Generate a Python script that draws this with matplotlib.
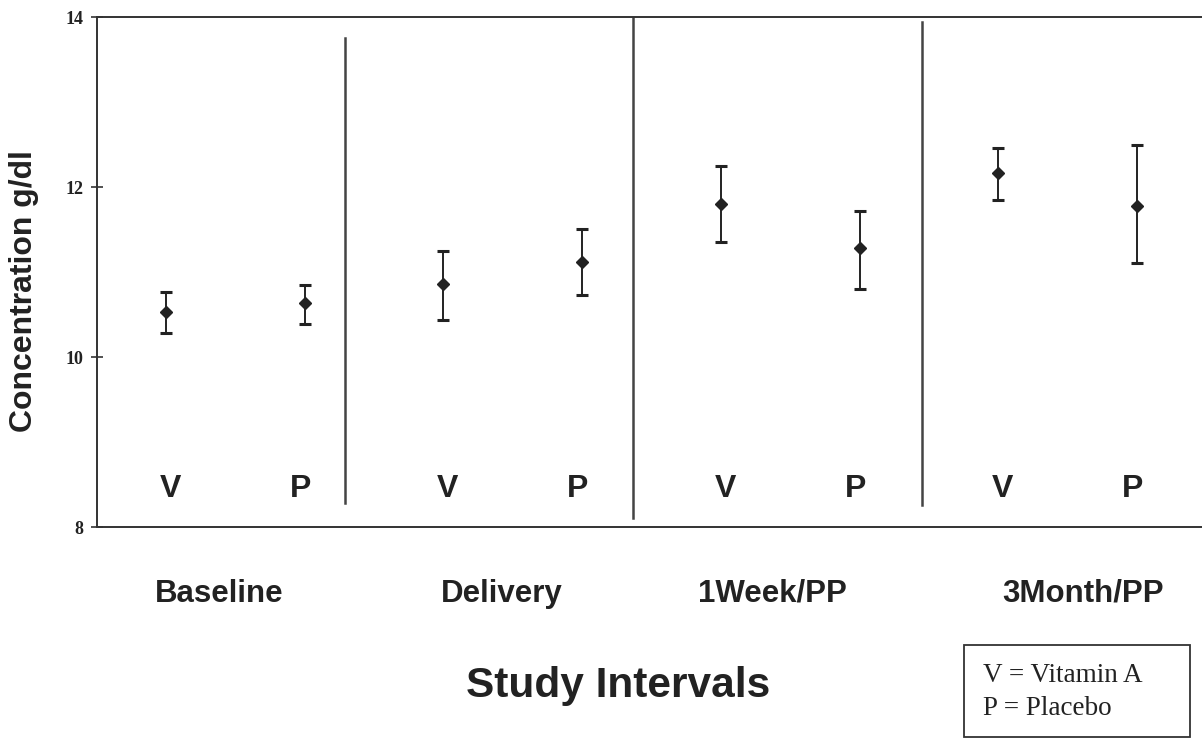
import matplotlib
matplotlib.use("Agg")
import matplotlib.pyplot as plt
from matplotlib.patches import Rectangle
import numpy as np

# study intervals and the two arms
intervals = ["Baseline", "Delivery", "1Week/PP", "3Month/PP"]
arms = ["V", "P"]

# vitamin A arm: mean with lower / upper error limits (g/dl)
vit_mean = [10.53, 10.86, 11.80, 12.17]
vit_low = [10.28, 10.44, 11.36, 11.85]
vit_high = [10.76, 11.25, 12.25, 12.46]

# placebo arm
plc_mean = [10.64, 11.12, 11.28, 11.78]
plc_low = [10.39, 10.73, 10.80, 11.11]
plc_high = [10.85, 11.51, 11.72, 12.49]

y_ticks = [8, 10, 12, 14]

ink = "#222222"
sans = "Liberation Sans"
serif = "Liberation Serif"

fig = plt.figure(figsize=(12.02, 7.40), dpi=100)
ax = fig.add_axes([0.0807, 0.2878, 0.9193, 0.689])

# V and P alternate along x, one pair per interval
x_vit = np.arange(len(intervals)) * 2 + 1
x_plc = x_vit + 1

def draw_arm(xs, mean, low, high):
    mean = np.array(mean)
    yerr = [mean - np.array(low), np.array(high) - mean]
    ax.errorbar(xs, mean, yerr=yerr, fmt="D", color=ink, ms=6,
                elinewidth=1.4, capsize=4.5, capthick=2.2, zorder=3)

draw_arm(x_vit, vit_mean, vit_low, vit_high)
draw_arm(x_plc, plc_mean, plc_low, plc_high)

# separators between intervals
for xd, y0, y1 in [(2.292, 8.28, 13.75), (4.366, 8.11, 14.0), (6.449, 8.26, 13.94)]:
    ax.plot([xd, xd], [y0, y1], color="#444444", lw=1.8, zorder=2)

# arm letters inside the plot
for xs, lab in [(x_vit, "V"), (x_plc, "P")]:
    for xv in xs:
        ax.text(xv + (0.03 if lab == "V" else -0.03), 8.353, lab, ha="center", va="baseline",
                fontsize=23, fontweight="bold", family=sans, color=ink)

# interval names under the axis
group_x = [1.384, 3.423, 5.369, 7.610]
for gx, name in zip(group_x, intervals):
    ax.text(gx, 7.118, name, ha="center", va="baseline", fontsize=22.5,
            fontweight="bold", family=sans, color=ink, clip_on=False)

ax.set_xlim(0.504, 8.468)
ax.set_ylim(8, 14)
ax.set_xticks([])
ax.set_yticks(y_ticks)
ax.set_yticklabels([str(t) for t in y_ticks], family=serif, fontweight="bold",
                   fontsize=13, color=ink)
ax.tick_params(axis="y", direction="inout", length=9, width=1.2, color="#333333", pad=5)

ax.spines["right"].set_visible(False)
for side in ["left", "top", "bottom"]:
    ax.spines[side].set_color("#333333")
    ax.spines[side].set_linewidth(1.4)

fig.text(24 / 1202, 1 - 291 / 740, "Concentration g/dl", rotation=90, ha="center",
         va="center", fontsize=23, fontweight="bold", family=sans, color=ink)

fig.text(618 / 1202, 1 - 697 / 740, "Study Intervals", ha="center", va="baseline",
         fontsize=30.5, fontweight="bold", family=sans, color=ink)

# key box in the lower right corner
box = Rectangle((964 / 1202, 1 - 737 / 740), (1190 - 964) / 1202, (737 - 645) / 740,
                transform=fig.transFigure, fill=False, edgecolor="#333333", lw=1.3)
fig.add_artist(box)
fig.text(983 / 1202, 1 - 682 / 740, "V = Vitamin A", ha="left", va="baseline",
         fontsize=19.5, family=serif, color=ink)
fig.text(983 / 1202, 1 - 715 / 740, "P = Placebo", ha="left", va="baseline",
         fontsize=19.5, family=serif, color=ink)

fig.savefig("out.png", dpi=100)
